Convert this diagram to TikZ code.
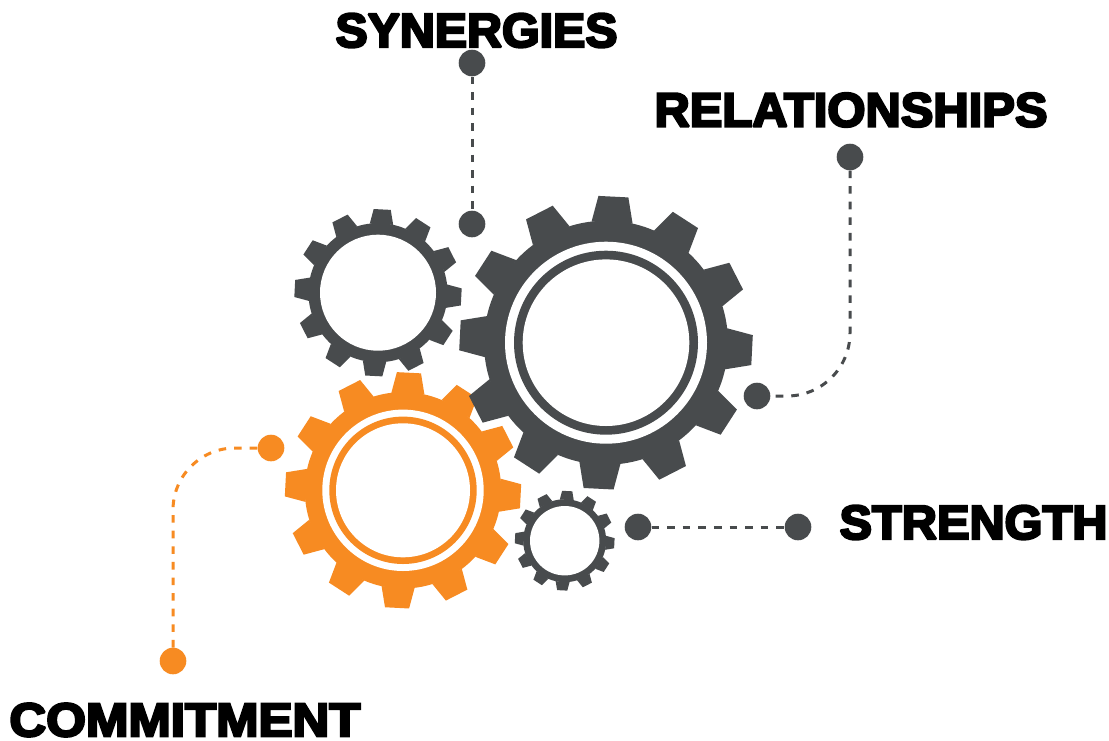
\documentclass[tikz,border=0pt]{standalone}
\usepackage{fontspec}
\usepackage{graphicx}
\newfontfamily\heavyfont[FakeBold=5]{Liberation Sans Bold}
\definecolor{geargray}{HTML}{484B4D}
\definecolor{gearorange}{HTML}{F78B22}
\newcommand{\geartoothed}[4]{%
  \begin{scope}[shift={(#1,#2)},scale=#3]
    \fill[#4] (0,0) circle (122);
    \foreach \a in {0,30,...,330}{
      \fill[#4] (-87.1+\a-9.7:122) -- (-87.1+\a-5.85:147) -- (-87.1+\a+5.85:147) -- (-87.1+\a+9.7:122) -- cycle;
    }
  \end{scope}}
\tikzset{
  dotnode/.style={circle,fill=#1,draw=none,minimum size=26.6pt,inner sep=0pt},
  dotline/.style={draw=#1,line width=3pt,dash pattern=on 7.6pt off 8pt},
  labeltext/.style={inner sep=0pt,text=black,font=\heavyfont}
}
\begin{document}
\begin{tikzpicture}[x=1pt,y=-1pt]
\useasboundingbox (0,0) rectangle (1109,740);
\fill[white] (0,0) rectangle (1109,740);
% upper-left gear
\geartoothed{378}{292.7}{0.57}{geargray}
\fill[white] (378,292.7) circle (58);
% small gear
\geartoothed{564.7}{540.7}{0.34}{geargray}
\fill[white] (564.7,540.7) circle (34.7);
% orange gear
\geartoothed{403}{490.3}{0.805}{gearorange}
\fill[white] (403,490.3) circle (80.7);
\fill[gearorange] (403,490.3) circle (73.7);
\fill[white] (403,490.3) circle (67);
% big gear
\geartoothed{606}{342.7}{1}{geargray}
\fill[white] (606,342.7) circle (101);
\fill[geargray] (606,342.7) circle (92);
\fill[white] (606,342.7) circle (83.3);
% dots
\node[dotnode=geargray] (synA) at (472,63) {};
\node[dotnode=geargray] (synB) at (472,224) {};
\node[dotnode=geargray] (relA) at (850,157) {};
\node[dotnode=geargray] (relB) at (757,396) {};
\node[dotnode=geargray] (strA) at (638,527) {};
\node[dotnode=geargray] (strB) at (798,527) {};
\node[dotnode=gearorange] (comA) at (173,661) {};
\node[dotnode=gearorange] (comB) at (271,448) {};
% connectors
\draw[dotline=geargray] (synA.south) -- (synB.north);
\draw[dotline=geargray] (relA.south) -- (850,333) arc[start angle=0,end angle=90,radius=63] -- (relB.east);
\draw[dotline=geargray] (strA.east) -- (strB.west);
\draw[dotline=gearorange] (comA.north) -- (173,510) arc[start angle=180,end angle=270,radius=62] -- (comB.west);
% labels
\begin{scope}[miter limit=1.5]
\node[labeltext] (lblSyn) at (476.5,30.5) {\resizebox{282pt}{33.5pt}{SYNERGIES}};
\node[labeltext] (lblRel) at (851,110) {\resizebox{393pt}{33.5pt}{RELATIONSHIPS}};
\node[labeltext] (lblStr) at (973.5,522.5) {\resizebox{268pt}{33.5pt}{STRENGTH}};
\node[labeltext] (lblCom) at (185,720) {\resizebox{351pt}{33pt}{COMMITMENT}};
\end{scope}
\end{tikzpicture}
\end{document}
